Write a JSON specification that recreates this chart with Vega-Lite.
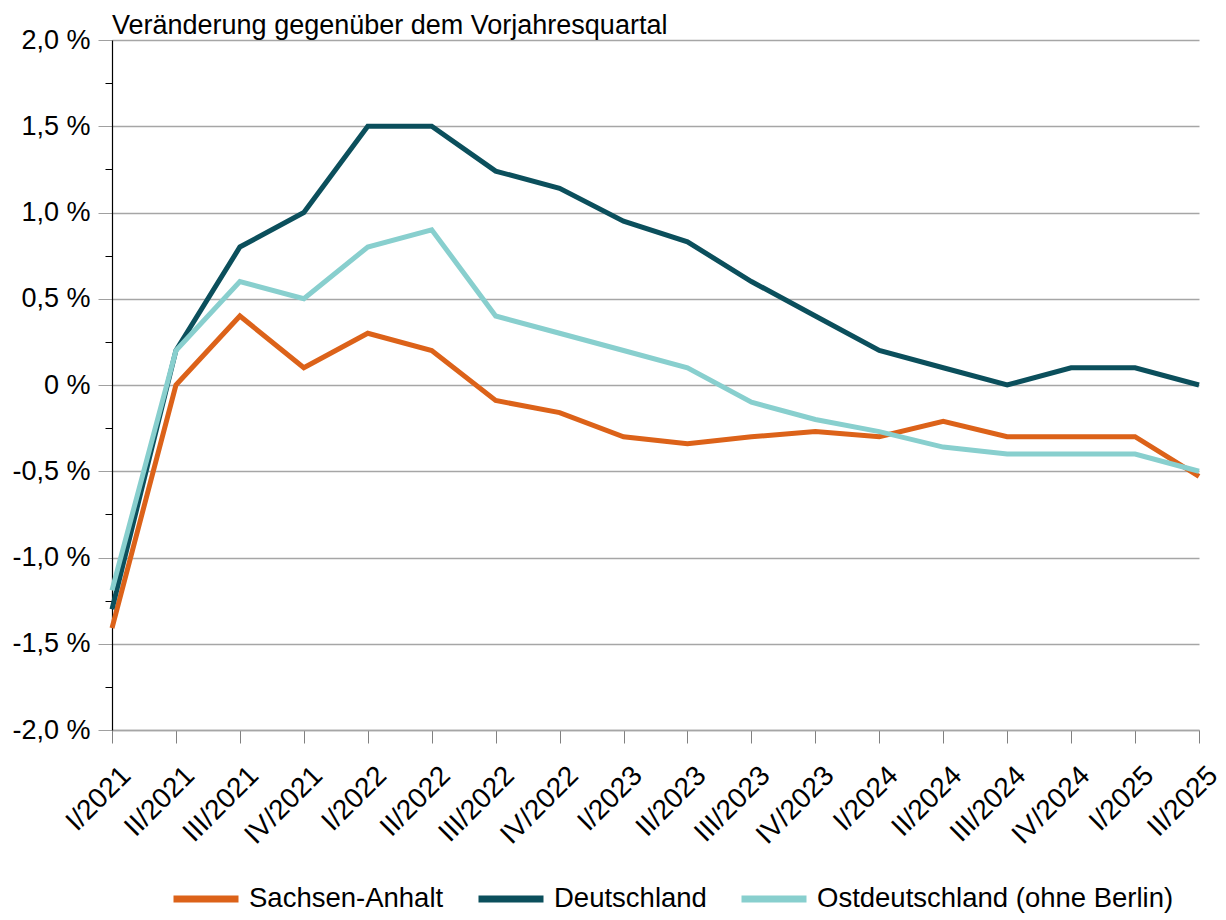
{
  "$schema": "https://vega.github.io/schema/vega-lite/v6.json",
  "width": 1087,
  "height": 690,
  "autosize": {"type": "none"},
  "padding": {"left": 112, "top": 40, "right": 27, "bottom": 190},
  "background": "white",
  "config": {
    "font": "Liberation Sans",
    "view": {"stroke": null}
  },
  "title": {
    "text": "Veränderung gegenüber dem Vorjahresquartal",
    "anchor": "start",
    "frame": "group",
    "fontSize": 27,
    "fontWeight": "normal",
    "color": "#000000",
    "offset": 0,
    "dy": 14
  },
  "data": {
    "values": [
      {"q": "I/2021", "i": 0, "Sachsen-Anhalt": -1.41, "Deutschland": -1.30, "Ostdeutschland (ohne Berlin)": -1.19},
      {"q": "II/2021", "i": 1, "Sachsen-Anhalt": 0.0, "Deutschland": 0.2, "Ostdeutschland (ohne Berlin)": 0.2},
      {"q": "III/2021", "i": 2, "Sachsen-Anhalt": 0.4, "Deutschland": 0.8, "Ostdeutschland (ohne Berlin)": 0.6},
      {"q": "IV/2021", "i": 3, "Sachsen-Anhalt": 0.1, "Deutschland": 1.0, "Ostdeutschland (ohne Berlin)": 0.5},
      {"q": "I/2022", "i": 4, "Sachsen-Anhalt": 0.3, "Deutschland": 1.5, "Ostdeutschland (ohne Berlin)": 0.8},
      {"q": "II/2022", "i": 5, "Sachsen-Anhalt": 0.2, "Deutschland": 1.5, "Ostdeutschland (ohne Berlin)": 0.9},
      {"q": "III/2022", "i": 6, "Sachsen-Anhalt": -0.09, "Deutschland": 1.24, "Ostdeutschland (ohne Berlin)": 0.4},
      {"q": "IV/2022", "i": 7, "Sachsen-Anhalt": -0.16, "Deutschland": 1.14, "Ostdeutschland (ohne Berlin)": 0.3},
      {"q": "I/2023", "i": 8, "Sachsen-Anhalt": -0.3, "Deutschland": 0.95, "Ostdeutschland (ohne Berlin)": 0.2},
      {"q": "II/2023", "i": 9, "Sachsen-Anhalt": -0.34, "Deutschland": 0.83, "Ostdeutschland (ohne Berlin)": 0.1},
      {"q": "III/2023", "i": 10, "Sachsen-Anhalt": -0.3, "Deutschland": 0.6, "Ostdeutschland (ohne Berlin)": -0.1},
      {"q": "IV/2023", "i": 11, "Sachsen-Anhalt": -0.27, "Deutschland": 0.4, "Ostdeutschland (ohne Berlin)": -0.2},
      {"q": "I/2024", "i": 12, "Sachsen-Anhalt": -0.3, "Deutschland": 0.2, "Ostdeutschland (ohne Berlin)": -0.27},
      {"q": "II/2024", "i": 13, "Sachsen-Anhalt": -0.21, "Deutschland": 0.1, "Ostdeutschland (ohne Berlin)": -0.36},
      {"q": "III/2024", "i": 14, "Sachsen-Anhalt": -0.3, "Deutschland": 0.0, "Ostdeutschland (ohne Berlin)": -0.4},
      {"q": "IV/2024", "i": 15, "Sachsen-Anhalt": -0.3, "Deutschland": 0.1, "Ostdeutschland (ohne Berlin)": -0.4},
      {"q": "I/2025", "i": 16, "Sachsen-Anhalt": -0.3, "Deutschland": 0.1, "Ostdeutschland (ohne Berlin)": -0.4},
      {"q": "II/2025", "i": 17, "Sachsen-Anhalt": -0.53, "Deutschland": 0.0, "Ostdeutschland (ohne Berlin)": -0.5}
    ]
  },
  "transform": [
    {"fold": ["Sachsen-Anhalt", "Deutschland", "Ostdeutschland (ohne Berlin)"], "as": ["series", "value"]}
  ],
  "mark": {"type": "line", "strokeWidth": 5, "strokeJoin": "miter", "strokeCap": "butt"},
  "encoding": {
    "x": {
      "field": "q",
      "type": "ordinal",
      "sort": {"field": "i"},
      "scale": {"type": "point", "padding": 0},
      "axis": {
        "title": null,
        "labelAngle": -45,
        "labelAlign": "right",
        "labelBaseline": "middle",
        "labelFontSize": 28,
        "labelColor": "#000000",
        "labelPadding": 28,
        "labelOffset": 14,
        "labelLimit": 0,
        "tickSize": 13,
        "tickColor": "#808080",
        "domainColor": "#a6a6a6",
        "domainWidth": 1.5,
        "grid": false
      }
    },
    "y": {
      "field": "value",
      "type": "quantitative",
      "scale": {"domain": [-2, 2], "nice": false, "zero": false},
      "axis": {
        "title": null,
        "values": [-2, -1.75, -1.5, -1.25, -1, -0.75, -0.5, -0.25, 0, 0.25, 0.5, 0.75, 1, 1.25, 1.5, 1.75, 2],
        "labelExpr": "abs(datum.value * 2 - round(datum.value * 2)) > 0.01 ? '' : (datum.value == 0 ? '0 %' : replace(replace(format(datum.value, '.1f'), '.', ','), '\u2212', '-') + ' %')",
        "labelFontSize": 27,
        "labelColor": "#000000",
        "labelPadding": 8,
        "tickSize": {"condition": {"test": "abs(datum.value * 2 - round(datum.value * 2)) > 0.01", "value": 7}, "value": 14},
        "tickColor": {"condition": {"test": "abs(datum.value * 2 - round(datum.value * 2)) > 0.01", "value": "#000000"}, "value": "#a0a0a0"},
        "grid": true,
        "gridColor": "#a6a6a6",
        "gridWidth": 1.5,
        "gridOpacity": {"condition": {"test": "abs(datum.value * 2 - round(datum.value * 2)) > 0.01", "value": 0}, "value": 1},
        "domainColor": "#000000",
        "domainWidth": 1.2
      }
    },
    "color": {
      "field": "series",
      "type": "nominal",
      "sort": ["Sachsen-Anhalt", "Deutschland", "Ostdeutschland (ohne Berlin)"],
      "scale": {
        "domain": ["Sachsen-Anhalt", "Deutschland", "Ostdeutschland (ohne Berlin)"],
        "range": ["#DC6219", "#0B4F5C", "#88CFCE"]
      },
      "legend": {
        "title": null,
        "orient": "none",
        "direction": "horizontal",
        "legendX": 58,
        "legendY": 823,
        "symbolType": "stroke",
        "symbolStrokeWidth": 7,
        "symbolSize": 4225,
        "labelFontSize": 27.5,
        "labelColor": "#000000",
        "labelOffset": 7,
        "labelLimit": 0,
        "columnPadding": 20
      }
    }
  }
}
